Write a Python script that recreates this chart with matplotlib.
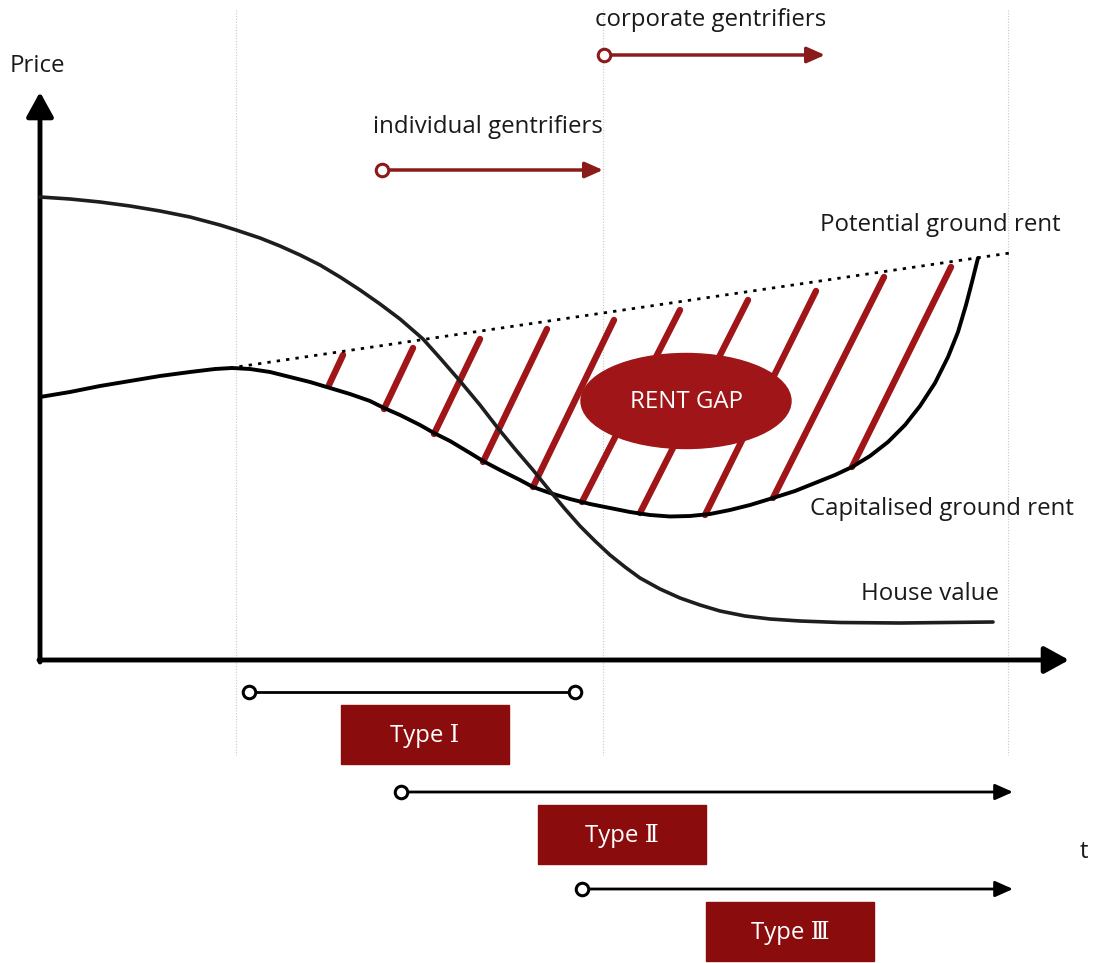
import matplotlib.pyplot as plt
from matplotlib.patches import Ellipse, Rectangle

plt.rcParams['font.family'] = ['Open Sans', 'DejaVu Sans']

# curves (t, price in picture units, price grows downward)
house_t = [40, 70, 100, 130, 160, 190, 220, 236, 260, 280, 300, 320, 340, 360, 380, 400,
           423, 440, 460, 480, 497, 515, 533, 550, 565, 580, 595, 610, 625, 640, 660, 680,
           700, 720, 745, 770, 800, 840, 900, 993]
house_p = [197, 199, 202, 206, 211, 217, 225, 230, 238, 246, 255, 265, 277, 290, 304, 319,
           339, 358, 381, 405, 427, 449, 470, 491, 509, 526, 541, 555, 567, 578, 589, 598,
           605, 611, 616, 619, 621, 622.5, 623, 622]

cap_t = [40, 70, 100, 130, 160, 190, 215, 232, 250, 270, 290, 310, 330, 350, 370, 384,
         400, 420, 434, 450, 470, 483, 500, 520, 533, 550, 570, 590, 610, 630, 650, 670,
         690, 710, 730, 750, 773, 795, 815, 835, 852, 870, 888, 905, 920, 935, 948, 958,
         966, 972, 978]
cap_p = [397, 392, 386, 381, 376, 372, 369, 368, 369, 372, 377, 382, 388, 394, 401, 408,
         415, 425, 433, 441, 453, 461, 470, 480, 487, 493, 499, 504, 508, 512, 515, 516.5,
         516, 514, 510, 505, 498, 491, 483, 475, 467, 456, 442, 425, 406, 383, 357, 332,
         305, 282, 258]

pot_t = [230, 1010]
pot_p = [368, 253]

# rent gap hatching: bottom on capitalised rent, top near potential rent
hatch_t0 = [329, 384, 434, 483, 533, 582, 640, 705, 773, 852]
hatch_p0 = [385, 409, 434, 462, 487, 502, 513, 515, 498, 467]
hatch_t1 = [343, 413, 480, 547, 614, 680, 748, 816, 884, 951]
hatch_p1 = [355, 348, 339, 329, 320, 310, 300, 291, 277, 267]

# phase boundaries
phase_t = [236, 603, 1008]

# gentrifier arrows
gent_labels = ['individual gentrifiers', 'corporate gentrifiers']
gent_start = [382, 604]
gent_end = [603, 825]
gent_level = [170, 55]
gent_label_level = [127, 20]

# gentrification types
type_labels = ['Type Ⅰ', 'Type Ⅱ', 'Type Ⅲ']
type_start = [249, 401, 582]
type_end = [575, 1013, 1013]
type_level = [692, 792, 889]
type_box = [341, 538, 706]
type_open_end = [True, False, False]

red = '#a01518'
dark_red = '#8a0c0c'
arrow_red = '#8b1a1a'
text_col = '#1a1a1a'
fs = 17.3

fig = plt.figure(figsize=(10.93, 9.63), dpi=100)
ax = fig.add_axes([0, 0, 1, 1])
ax.set_xlim(0, 1093)
ax.set_ylim(963, 0)
ax.axis('off')

for x in phase_t:
    ax.plot([x, x], [10, 755], color='#c8c8c8', lw=0.8, ls=(0, (1, 1.5)), zorder=0)

# axes with arrows
axis_arrow = dict(arrowstyle='-|>,head_length=1.0,head_width=0.55', lw=3.5,
                  color='black', mutation_scale=15, shrinkA=0, shrinkB=0)
ax.annotate('', xy=(40, 92), xytext=(40, 662), arrowprops=axis_arrow)
ax.annotate('', xy=(1069, 660), xytext=(39, 660), arrowprops=axis_arrow)
ax.text(10, 66, 'Price', fontsize=fs, va='center', ha='left', color=text_col)
ax.text(1080, 852, 't', fontsize=fs, va='center', ha='left', color=text_col)

for t0, p0, t1, p1 in zip(hatch_t0, hatch_p0, hatch_t1, hatch_p1):
    ax.plot([t0, t1], [p0, p1], color=red, lw=4.6, solid_capstyle='round', zorder=2)

ax.plot(pot_t, pot_p, color='black', lw=2, ls=(0, (1.2, 2.2)), zorder=3)
ax.plot(cap_t, cap_p, color='black', lw=2.8, zorder=3, solid_capstyle='round',
        solid_joinstyle='round')
ax.plot(house_t, house_p, color='#1e1e1e', lw=2.6, zorder=3, solid_capstyle='round',
        solid_joinstyle='round')

ax.add_patch(Ellipse((686, 401), 210, 95, color=red, zorder=4))
ax.text(686, 402, 'RENT GAP', color='white', fontsize=fs, ha='center', va='center', zorder=5)

ax.text(820, 225, 'Potential ground rent', fontsize=fs, ha='left', va='center', color=text_col)
ax.text(810, 509, 'Capitalised ground rent', fontsize=fs, ha='left', va='center', color=text_col)
ax.text(861, 594, 'House value', fontsize=fs, ha='left', va='center', color=text_col)

thin_arrow = dict(arrowstyle='-|>,head_length=0.9,head_width=0.4', mutation_scale=12,
                  shrinkA=0, shrinkB=0)
for label, t0, t1, lvl, tl in zip(gent_labels, gent_start, gent_end, gent_level,
                                  gent_label_level):
    ax.annotate('', xy=(t1, lvl), xytext=(t0, lvl),
                arrowprops=dict(thin_arrow, lw=2.5, color=arrow_red))
    ax.plot(t0, lvl, 'o', ms=9, mfc='white', mec=arrow_red, mew=2.2, zorder=6)
    ax.text(t0 - 9, tl, label, fontsize=fs, ha='left', va='center', color=text_col)

for label, t0, t1, lvl, bx, open_end in zip(type_labels, type_start, type_end, type_level,
                                             type_box, type_open_end):
    if open_end:
        ax.plot([t0, t1], [lvl, lvl], color='black', lw=2, zorder=5)
        ax.plot(t1, lvl, 'o', ms=9, mfc='white', mec='black', mew=2.2, zorder=6)
    else:
        ax.annotate('', xy=(t1, lvl), xytext=(t0, lvl),
                    arrowprops=dict(thin_arrow, lw=2, color='black'))
    ax.plot(t0, lvl, 'o', ms=9, mfc='white', mec='black', mew=2.2, zorder=6)
    ax.add_patch(Rectangle((bx, lvl + 13), 168, 59, color=dark_red, zorder=4))
    ax.text(bx + 84, lvl + 44, label, color='white', fontsize=fs,
            family=['Open Sans', 'DejaVu Serif'], ha='center', va='center', zorder=5)

fig.savefig('out.png', dpi=100)
